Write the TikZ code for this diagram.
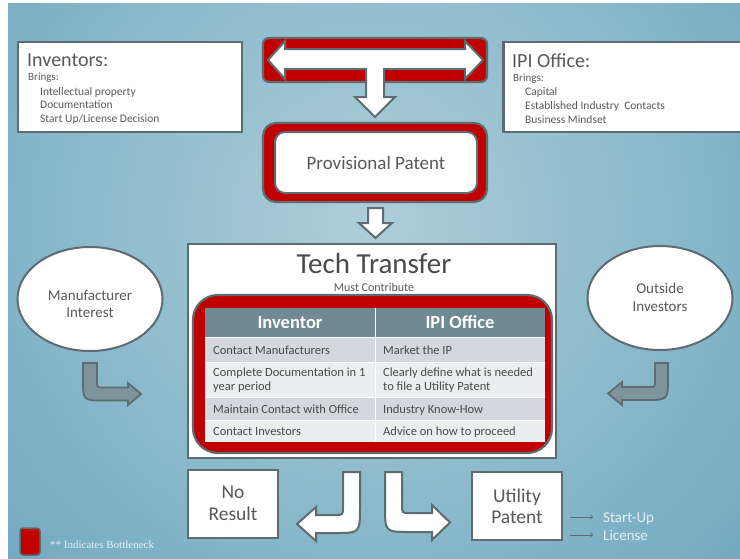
\documentclass[tikz,border=0pt]{standalone}
\usepackage{fontspec}
\setmainfont{Carlito}
\newfontfamily\legendfont{Liberation Serif}
\usetikzlibrary{shapes.geometric}
\definecolor{bred}{HTML}{C00000}
\definecolor{bgray}{HTML}{5E6B71}
\definecolor{txt}{HTML}{595959}
\definecolor{ttxt}{HTML}{4A4A4A}
\definecolor{thead}{HTML}{6F8A92}
\definecolor{rowa}{HTML}{D2D8DB}
\definecolor{rowb}{HTML}{EBEEEF}
\definecolor{bgin}{HTML}{AECDD9}
\definecolor{bgmid}{HTML}{8CBACC}
\definecolor{bgout}{HTML}{5E9CB7}
\definecolor{garrow}{HTML}{7D949B}
\definecolor{lighttxt}{HTML}{E3F0F5}
\pgfdeclareradialshading{bgshade}{\pgfpoint{0bp}{0bp}}{color(0bp)=(bgin); color(14bp)=(bgmid); color(34bp)=(bgout); color(50bp)=(bgout)}
\newcommand{\fs}[1]{\fontsize{#1}{#1}\selectfont}
\begin{document}
\begin{tikzpicture}[x=1pt,y=-1pt,
  box/.style={draw=bgray, line width=2.2pt, fill=white, inner sep=0pt},
  redbox/.style={draw=bgray, line width=2.2pt, fill=bred, inner sep=0pt},
  warrow/.style={draw=bgray, line width=2pt, fill=white, line join=miter},
  garr/.style={draw=bgray, line width=1.8pt, fill=garrow, line join=miter},
  lt/.style={anchor=base west, inner sep=0pt, text=txt},
  ct/.style={anchor=base, inner sep=0pt, text=txt},
  tt/.style={anchor=base west, inner sep=0pt, text=ttxt, font=\fs{12.5}, align=left},
  th/.style={anchor=base, inner sep=0pt, text=white, font=\bfseries\fs{18.5}},
  thinarrow/.style={->, draw=bgray, line width=0.8pt}
]
\useasboundingbox (0,0) rectangle (740,558);
\fill[white] (0,0) rectangle (740,558);
\begin{scope}
  \clip (8,3) rectangle (740,558);
  \shade[shading=bgshade] (-130,-280) rectangle (870,720);
\end{scope}

% Inventors box
\node[box, minimum width=224, minimum height=90] (inv) at (130,87) {};
\node[lt, font=\fs{20}] (invt) at (27,66) {Inventors:};
\node[lt, font=\fs{11}] (invb) at (28,80) {Brings:};
\node[lt, font=\fs{11.5}] (inv1) at (40,95) {Intellectual property};
\node[lt, font=\fs{11.5}] (inv2) at (40,108.5) {Documentation};
\node[lt, font=\fs{11.5}] (inv3) at (40,122) {Start Up/License Decision};

% IPI box
\node[box, minimum width=247, minimum height=90] (ipi) at (627,87) {};
\node[lt, font=\fs{20}] (ipit) at (512,67) {IPI Office:};
\node[lt, font=\fs{11}] (ipib) at (513,81) {Brings:};
\node[lt, font=\fs{11.5}] (ipi1) at (525,95) {Capital};
\node[lt, font=\fs{11.5}] (ipi2) at (525,109) {Established Industry\ \ Contacts};
\node[lt, font=\fs{11.5}] (ipi3) at (525,123) {Business Mindset};

% Top double arrow
\node[redbox, rounded corners=6pt, minimum width=224, minimum height=44] (topbox) at (375,60) {};
\draw[warrow] (268,60) -- (285,41) -- (285,49) -- (465,49) -- (465,41) -- (483,60) -- (465,79) -- (465,69)
  -- (384,69) -- (384,97) -- (395,97) -- (375,117) -- (355,97) -- (366,97) -- (366,69) -- (285,69) -- (285,79) -- cycle;

% Provisional patent
\node[redbox, rounded corners=13pt, minimum width=224, minimum height=79] (provout) at (375,162.5) {};
\node[box, rounded corners=10pt, line width=2pt, minimum width=202, minimum height=61] (prov) at (376,162.5) {};
\node[ct, font=\fs{19}] (provt) at (376,169) {Provisional Patent};

% small down arrow
\draw[warrow] (368,208) -- (383,208) -- (383,223) -- (392,223) -- (375.5,238) -- (359,223) -- (368,223) -- cycle;

% Tech transfer box
\node[box, line width=2pt, minimum width=368, minimum height=214] (tech) at (372,351) {};
\node[ct, font=\fs{29}, text=ttxt] (techt) at (374,273) {Tech Transfer};
\node[ct, font=\fs{12}] (must) at (374,291) {Must Contribute};
\node[redbox, rounded corners=25pt, minimum width=359, minimum height=158] (red) at (372.5,374) {};

% table
\fill[thead] (205,308) rectangle (545,337);
\fill[rowa] (205,337) rectangle (545,362.5);
\fill[rowb] (205,362.5) rectangle (545,397.5);
\fill[rowa] (205,397.5) rectangle (545,420);
\fill[rowb] (205,420) rectangle (545,442);
\draw[white, line width=1pt] (205,337) -- (545,337) (205,362.5) -- (545,362.5) (205,397.5) -- (545,397.5) (205,420) -- (545,420) (375,308) -- (375,442);
\node[th] (h1) at (290,328) {Inventor};
\node[th] (h2) at (460,328) {IPI Office};
\node[tt] (a1) at (213,354) {Contact Manufacturers};
\node[tt] (b1) at (383,354) {Market the IP};
\node[tt] (a2) at (213,376) {Complete Documentation in 1};
\node[tt] (a2b) at (213,390) {year period};
\node[tt] (b2) at (383,376) {Clearly define what is needed};
\node[tt] (b2b) at (383,390) {to file a Utility Patent};
\node[tt] (a3) at (213,413) {Maintain Contact with Office};
\node[tt] (b3) at (383,413) {Industry Know-How};
\node[tt] (a4) at (213,435) {Contact Investors};
\node[tt] (b4) at (383,435) {Advice on how to proceed};

% ellipses
\node[box, ellipse, line width=2pt, minimum width=145, minimum height=104] (manu) at (90,299) {};
\node[ct, font=\fs{15}] (manut) at (90,300) {Manufacturer};
\node[ct, font=\fs{15}] (manut2) at (90,317) {Interest};
\node[box, ellipse, line width=2pt, minimum width=145, minimum height=104] (outs) at (660,298) {};
\node[ct, font=\fs{15}] (outst) at (660,293) {Outside};
\node[ct, font=\fs{15}] (outst2) at (660,311) {Investors};

% gray bent arrows
\draw[garr] (97,363) -- (97,381) .. controls (97,387.5) .. (103,387.5) -- (128,387.5) -- (128,383) -- (141,394) -- (128,405) -- (128,400.5)
  -- (104,400.5) .. controls (83,400.5) .. (83,380) -- (83,363) -- cycle;
\draw[garr] (655,363) -- (655,381) .. controls (655,387) .. (649,387) -- (622,387) -- (622,382) -- (608,393.5) -- (622,405) -- (622,400)
  -- (646,400) .. controls (668,400) .. (668,378) -- (668,363) -- cycle;

% bottom boxes
\node[box, minimum width=90, minimum height=68] (nores) at (233,504) {};
\node[ct, font=\fs{19.5}] (no1) at (233,498) {No};
\node[ct, font=\fs{19.5}] (no2) at (233,520) {Result};
\node[box, minimum width=90, minimum height=68] (util) at (517,506) {};
\node[ct, font=\fs{19.5}] (ut1) at (517,502) {Utility};
\node[ct, font=\fs{19.5}] (ut2) at (517,523) {Patent};

% white bent arrows
\draw[warrow] (343,472) -- (343,507) .. controls (343,515) .. (335,515) -- (316,515) -- (316,507) -- (297,524) -- (316,541) -- (316,533)
  -- (335,533) .. controls (360,533) .. (360,507) -- (360,472) -- cycle;
\draw[warrow] (402,472) -- (402,505) .. controls (402,513) .. (410,513) -- (432,513) -- (432,505) -- (450,522.5) -- (432,540) -- (432,532)
  -- (410,532) .. controls (385,532) .. (385,506) -- (385,472) -- cycle;

% start-up / license
\coordinate (s1) at (570,517);
\coordinate (s2) at (593,517);
\coordinate (l1) at (570,535);
\coordinate (l2) at (593,535);
\node[lt, font=\fs{15}, text=lighttxt] (su) at (603,522) {Start-Up};
\node[lt, font=\fs{15}, text=lighttxt] (lic) at (603,540) {License};
\draw[thinarrow] (s1) -- (s2);
\draw[thinarrow] (l1) -- (l2);

% legend
\node[redbox, rounded corners=3pt, line width=1.5pt, minimum width=20, minimum height=27] (leg) at (30,541.5) {};
\node[lt, font=\legendfont\fs{11}, text=lighttxt] (legt) at (50,548) {** Indicates Bottleneck};
\end{tikzpicture}
\end{document}
